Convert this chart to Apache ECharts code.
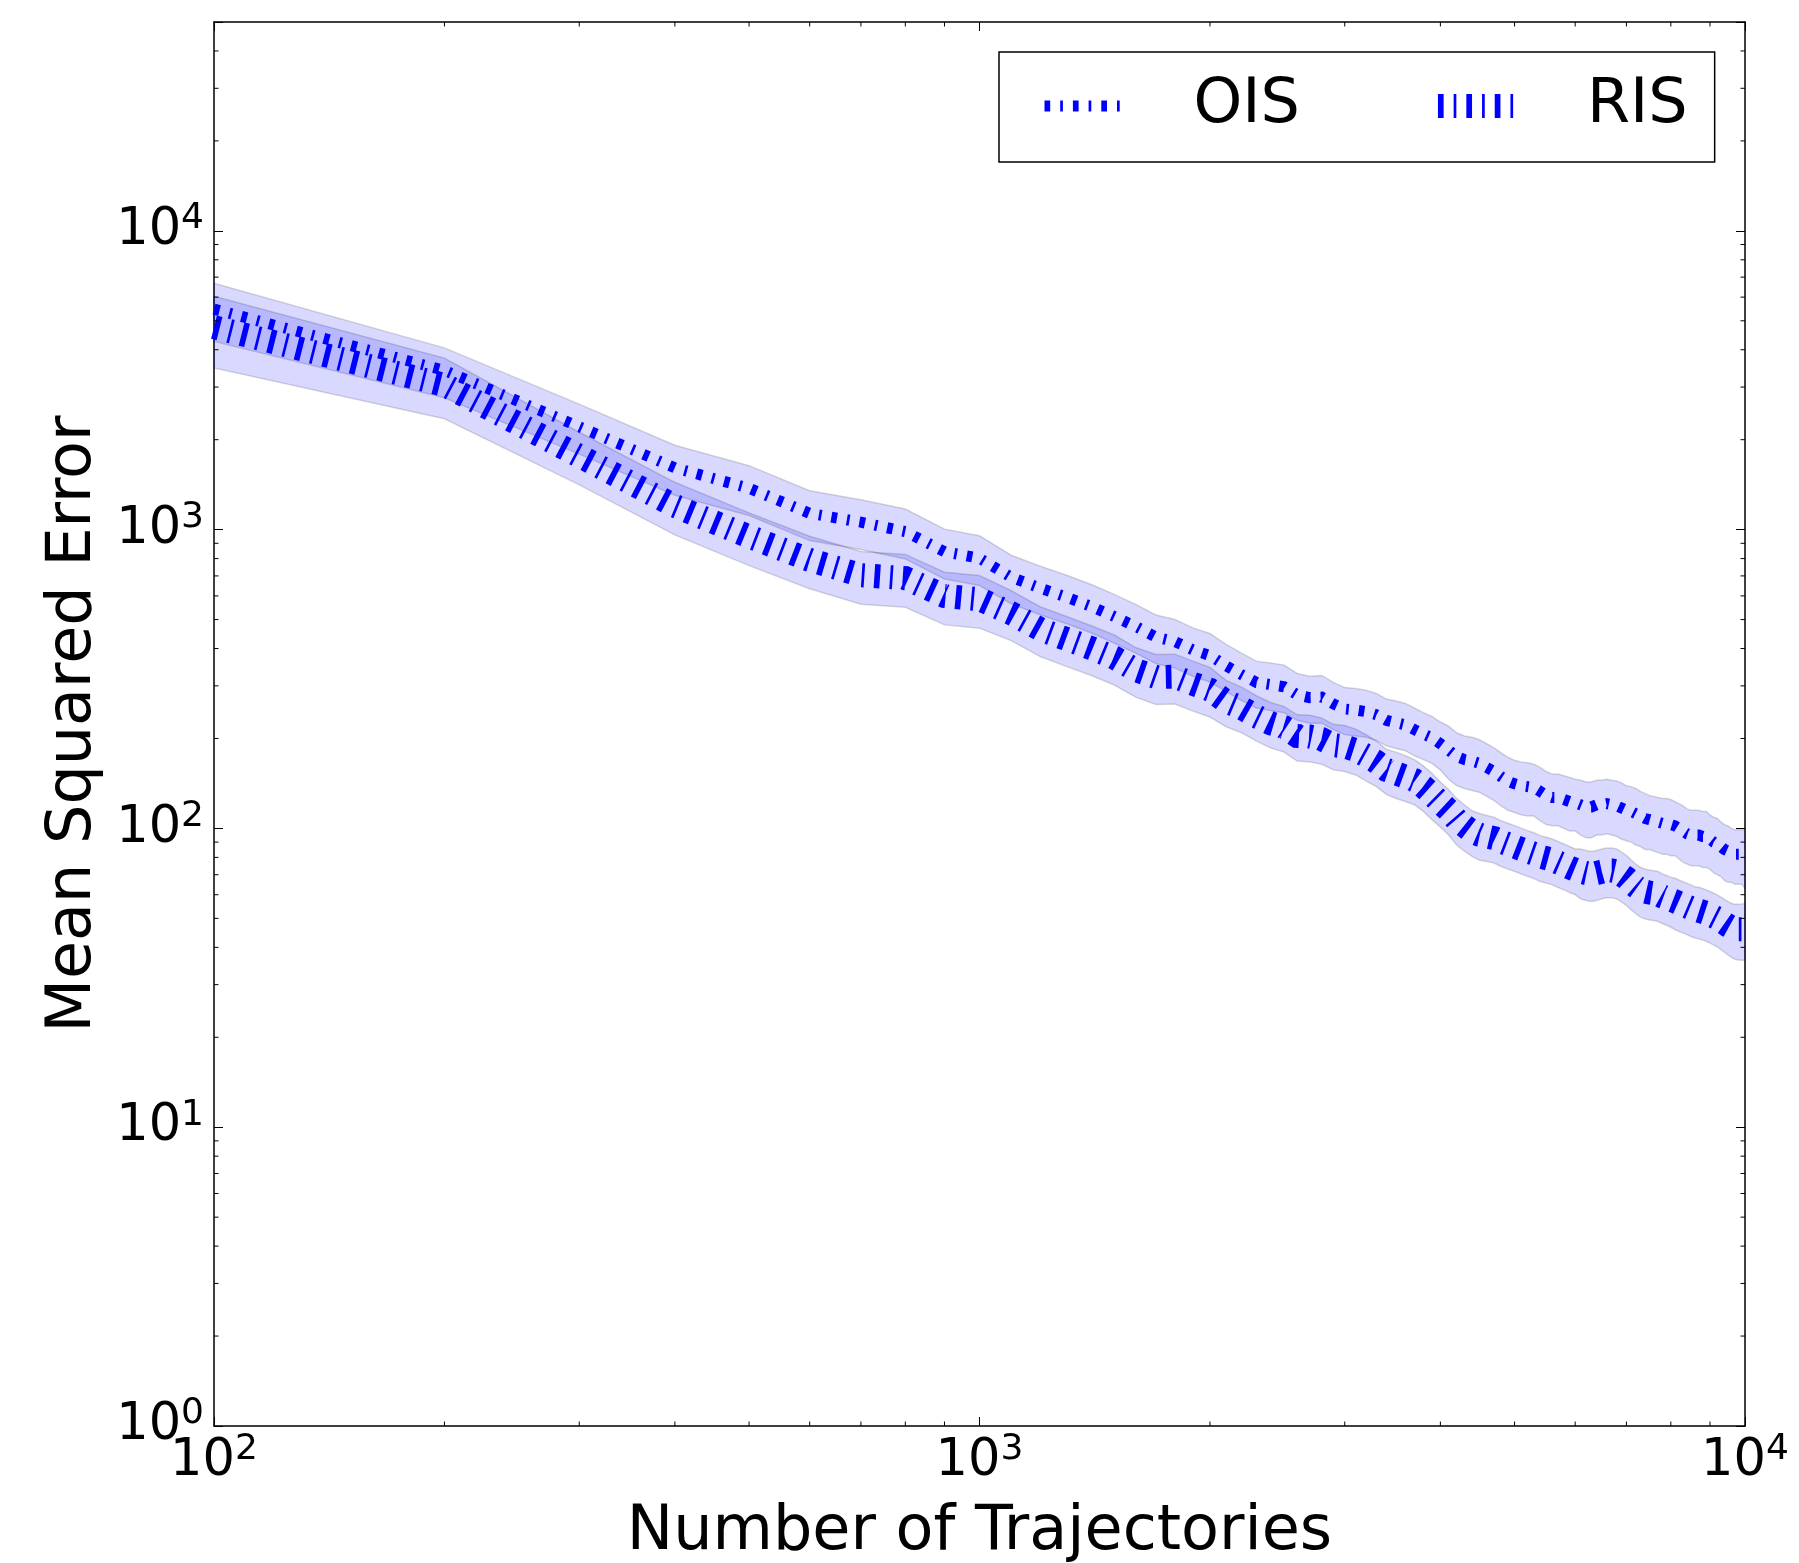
<!DOCTYPE html>
<html><head><meta charset="utf-8">
<script src="https://cdn.jsdelivr.net/npm/echarts@6/dist/echarts.min.js"></script>
<style>html,body{margin:0;padding:0;background:#fff}#c{width:1799px;height:1563px}</style>
</head><body><div id="c"></div>
<script>
const trajectories = [100,200,300,400,500,600,700,800,900,1000,
 1100,1200,1300,1400,1500,1600,1700,1800,1900,2000,
 2100,2200,2300,2400,2500,2600,2700,2800,2900,3000,
 3100,3200,3300,3400,3500,3600,3700,3800,3900,4000,
 4100,4200,4300,4400,4500,4600,4700,4800,4900,5000,
 5100,5200,5300,5400,5500,5600,5700,5800,5900,6000,
 6100,6200,6300,6400,6500,6600,6700,6800,6900,7000,
 7100,7200,7300,7400,7500,7600,7700,7800,7900,8000,
 8100,8200,8300,8400,8500,8600,8700,8800,8900,9000,
 9100,9200,9300,9400,9500,9600,9700,9800,9900,10000];

const oisMean = [5470,3410,2210,1610,1376,1134,1059,985,844,802,
 693,637,594,553,512,474,437,422,396,379,
 350,327,308,303,298,280,274,275,261,251,
 249,246,240,230,226,222,214,207,201,192,
 183,174,170,168,165,160,155,149,144,141,
 139,138,137,133,129,127,127,125,123,122,
 120,118,118,120,120,121,120,119,117,115,
 114,112,110,108,107,106,105,104,104,103,
 102,100,98,96,95,95,95,94,94,92,
 90,89,87,85,84,83,82,82,82,81];
const oisStd = [1203,648,420,306,261,215,201,187,160,152,
 128,118,110,102,95,88,81,78,73,70,
 63,59,55,55,54,50,49,50,47,45,
 45,44,43,41,41,40,39,37,36,35,
 37,35,34,34,33,32,31,30,29,28,
 28,28,27,27,26,25,25,25,25,24,
 25,25,25,25,25,25,25,25,25,24,
 24,24,23,23,22,22,22,22,22,22,
 21,21,21,20,20,20,20,20,20,19,
 19,19,18,18,18,17,17,17,17,18];

const risMean = [4760,3050,1765,1200,948,792,704,688,600,585,
 525,464,430,401,373,339,321,322,305,291,
 266,253,237,225,218,204,203,199,190,188,
 183,175,167,157,153,149,145,138,130,122,
 115,107,102,97.6,95.2,94,92.8,90.4,88.6,87,
 85.3,83.7,82.3,80.5,79.5,78.5,76.9,75.5,74,72.7,
 71.7,70.9,70.3,70.9,71.7,72.3,72.3,71.7,70,68.2,
 65.9,63.9,62.3,61.5,61,60.7,60.3,59.2,58.5,57.7,
 57,56.2,55.5,54.8,54.1,53.4,53.1,52.6,52.1,51.4,
 50.7,50,49.1,48.2,47.3,46.6,46.1,46,46,46.2];
const risStd = [1285,700,353,240,190,158,141,138,120,117,
 100,88,82,76,71,64,61,61,58,55,
 47,44,41,39,38,36,36,35,33,33,
 32,31,29,27,27,26,25,24,23,21,
 20,19,18,17,17,16.5,16.2,15.8,15.5,15.2,
 14.9,14.6,14.4,14.1,13.9,13.7,13.5,13.2,13,12.7,
 13.6,13.5,13.4,13.5,13.6,13.7,13.7,13.6,13.3,13,
 12.5,12.1,11.8,11.7,11.6,11.5,11.5,11.2,11.1,11,
 11.1,11,10.8,10.7,10.6,10.4,10.4,10.3,10.2,10.1,
 10,9.9,9.8,9.7,9.6,9.6,9.6,9.7,9.8,10];

const xMinorTicks = [200,300,400,500,600,700,800,900,2000,3000,4000,5000,6000,7000,8000,9000];
const yMinorTicks = [2,3,4,5,6,7,8,9,20,30,40,50,60,70,80,90,200,300,400,500,600,700,800,900,
 2000,3000,4000,5000,6000,7000,8000,9000,20000,30000,40000];

const FONT = 'DejaVu Sans';
const DASH = [5.7, 10, 2.7, 10];
const chart = echarts.init(document.getElementById('c'), null, {renderer: 'canvas'});

function supLabel(v) {
  const e = Math.log10(v);
  const r = Math.round(e);
  if (Math.abs(e - r) > 1e-6) return '';
  return '{b|10}{s|' + r + '}';
}
const richLab = {
  b: {fontSize: 51, fontFamily: FONT, color: '#000', lineHeight: 60},
  s: {fontSize: 36, fontFamily: FONT, color: '#000', lineHeight: 26, verticalAlign: 'top'}
};

function bandSeries(name, mean, std) {
  return {
    type: 'custom', name: name, coordinateSystem: 'cartesian2d', silent: true, z: 1,
    data: [[trajectories[0], mean[0]]],
    renderItem: function (params, api) {
      const pts = [];
      for (let i = 0; i < trajectories.length; i++) pts.push(api.coord([trajectories[i], mean[i] + std[i]]));
      for (let i = trajectories.length - 1; i >= 0; i--) pts.push(api.coord([trajectories[i], mean[i] - std[i]]));
      return {type: 'polygon', shape: {points: pts},
        style: {fill: 'rgba(0,0,255,0.15)', stroke: 'rgba(0,0,0,0.15)', lineWidth: 1.5}};
    }
  };
}

function lineSeries(name, mean, width) {
  return {
    type: 'line', name: name, symbol: 'none', z: 3,
    data: trajectories.map((x, i) => [x, mean[i]]),
    itemStyle: {color: '#0000ff'},
    lineStyle: {color: '#0000ff', width: width, type: DASH, cap: 'butt', join: 'miter', miterLimit: 10}
  };
}

function tickLine(x1, y1, x2, y2) {
  return {type: 'line', shape: {x1: x1, y1: y1, x2: x2, y2: y2}, style: {stroke: '#000', lineWidth: 1}};
}

const minorTickSeries = {
  type: 'custom', name: 'minorTicks', coordinateSystem: 'cartesian2d', silent: true, z: 6,
  data: [[100, 1]],
  renderItem: function (params, api) {
    const cs = params.coordSys;
    const L = 4.5;
    const ch = [];
    xMinorTicks.forEach(v => {
      const px = api.coord([v, 1])[0];
      ch.push(tickLine(px, cs.y + cs.height, px, cs.y + cs.height - L));
      ch.push(tickLine(px, cs.y, px, cs.y + L));
    });
    yMinorTicks.forEach(v => {
      const py = api.coord([100, v])[1];
      ch.push(tickLine(cs.x, py, cs.x + L, py));
      ch.push(tickLine(cs.x + cs.width, py, cs.x + cs.width - L, py));
    });
    return {type: 'group', children: ch};
  }
};

const axisLineStyle = {show: true, lineStyle: {color: '#000', width: 1.5}};
const majorTick = {show: true, inside: true, length: 9, lineStyle: {color: '#000', width: 1}};

function legendItem(name, width) {
  return {
    name: name,
    itemStyle: {opacity: 0, color: 'rgba(0,0,0,0)', borderWidth: 0},
    lineStyle: {color: '#0000ff', width: width, type: DASH, cap: 'butt', opacity: 1}
  };
}

chart.setOption({
  animation: false,
  backgroundColor: '#fff',
  grid: {left: 214, right: 54, top: 22, bottom: 137, containLabel: false, outerBoundsMode: 'none'},
  legend: {
    data: [legendItem('OIS', 11), legendItem('RIS', 24)],
    left: 999, top: 52, orient: 'horizontal',
    itemWidth: 77, itemHeight: 74, itemGap: 126,
    padding: [15, 27, 17, 40], borderColor: '#000', borderWidth: 1.5, borderRadius: 0,
    backgroundColor: '#fff', selectedMode: false,
    textStyle: {fontFamily: FONT, fontSize: 62, color: '#000', padding: [4, 0, 0, 67], lineHeight: 74}
  },
  xAxis: [{
    type: 'log', logBase: 10, min: 100, max: 10000, interval: 1, position: 'bottom',
    name: 'Number of Trajectories', nameLocation: 'middle', nameGap: 76,
    nameTextStyle: {fontFamily: FONT, fontSize: 62, color: '#000'},
    axisLine: axisLineStyle, axisTick: majorTick, splitLine: {show: false},
    axisLabel: {margin: 6, formatter: supLabel, rich: richLab, showMinLabel: true, showMaxLabel: true}
  }, {
    type: 'log', logBase: 10, min: 100, max: 10000, interval: 1, position: 'top',
    axisLine: axisLineStyle, axisTick: majorTick, splitLine: {show: false}, axisLabel: {show: false}
  }],
  yAxis: [{
    type: 'log', logBase: 10, min: 1, max: 50000, interval: 1, position: 'left',
    name: 'Mean Squared Error', nameLocation: 'middle', nameGap: 109, nameRotate: 90,
    nameTextStyle: {fontFamily: FONT, fontSize: 62, color: '#000'},
    axisLine: axisLineStyle, axisTick: majorTick, splitLine: {show: false},
    axisLabel: {margin: 10, formatter: supLabel, rich: richLab, showMinLabel: true, showMaxLabel: true}
  }, {
    type: 'log', logBase: 10, min: 1, max: 50000, interval: 1, position: 'right',
    axisLine: axisLineStyle, axisTick: majorTick, splitLine: {show: false}, axisLabel: {show: false}
  }],
  series: [
    bandSeries('OIS band', oisMean, oisStd),
    bandSeries('RIS band', risMean, risStd),
    lineSeries('OIS', oisMean, 11),
    lineSeries('RIS', risMean, 24),
    minorTickSeries
  ]
});
</script>
</body></html>
